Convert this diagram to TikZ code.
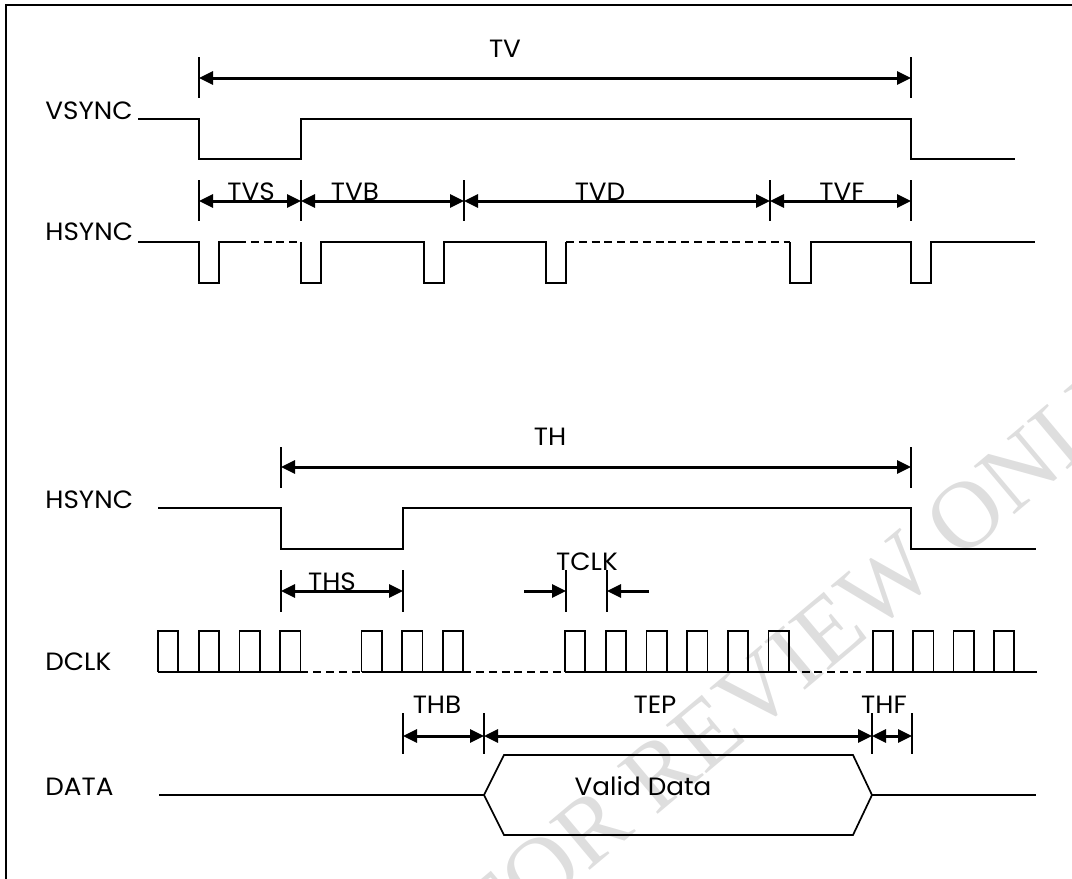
\documentclass[tikz,border=0pt]{standalone}
\usepackage{fontspec}
\setmainfont{Poppins}[FakeStretch=1.05]
\newfontfamily\stampfont{Liberation Serif}
\usetikzlibrary{arrows.meta}

\tikzset{
  sig/.style={line width=0.85pt},
  gapline/.style={line width=0.9pt, dash pattern=on 4pt off 2.4pt},
  tickline/.style={line width=0.65pt},
  dimboth/.style={line width=1.5pt, {Triangle[length=7pt,width=6.5pt]}-{Triangle[length=7pt,width=6.5pt]}},
  dimone/.style={line width=1.5pt, -{Triangle[length=7pt,width=6.5pt]}},
  lbl/.style={font=\fontsize{12.5}{15}\selectfont, inner sep=0pt, anchor=base},
  signame/.style={lbl, anchor=base west},
}

\begin{document}
\begin{tikzpicture}[x=0.5pt,y=0.5pt,yscale=-1,xscale=1]
        \useasboundingbox (0,0) rectangle (1072,879);

        % Watermark
        \begin{scope}
          \clip (0,0) rectangle (1072,879);
          \node[rotate=40, text=black!13, font=\stampfont\fontsize{48}{48}\selectfont] (stamp) at (805,650) {FOR REVIEW ONLY};
        \end{scope}

        % Frame
        \draw [line width=1.4pt] (6,879) -- (6,5) -- (1072,5);

        % Text Node
        \node [signame] (vsync) at (45,119) {VSYNC};
        \node [signame] (hsynca) at (45,240) {HSYNC};
        \node [signame] (hsyncb) at (45,508) {HSYNC};
        \node [signame] (dclk) at (45,670) {DCLK};
        \node [signame] (data) at (45,795) {DATA};

        % Text Node
        \node [lbl] (tv) at (505,57) {TV};
        \node [lbl] (tvs) at (251,200) {TVS};
        \node [lbl] (tvb) at (355,200) {TVB};
        \node [lbl] (tvd) at (600,200) {TVD};
        \node [lbl] (tvf) at (842,200) {TVF};
        \node [lbl] (th) at (550,445) {TH};
        \node [lbl] (ths) at (332,590) {THS};
        \node [lbl] (tclk) at (587,570) {TCLK};
        \node [lbl] (thb) at (437,713) {THB};
        \node [lbl] (tep) at (655,713) {TEP};
        \node [lbl] (thf) at (884,713) {THF};

        % VSYNC
        \draw [sig] (138,119) -- (199,119) -- (199,159) -- (301,159) -- (301,119) -- (911,119) -- (911,159) -- (1015,159);

        % TV
        \coordinate (tvl) at (199,78);
        \coordinate (tvr) at (911,78);
        \draw [tickline] (199,57) -- (199,98);
        \draw [tickline] (911,57) -- (911,98);
        \draw [dimboth] (tvl) -- (tvr);

        % TVS, TVB, TVD, TVF
        \foreach \n/\x in {a/199,b/301,c/464,d/770,e/911} {
          \coordinate (v\n) at (\x,201);
          \draw [tickline] (\x,180) -- (\x,221);
        }
        \draw [dimboth] (va) -- (vb);
        \draw [dimboth] (vb) -- (vc);
        \draw [dimboth] (vc) -- (vd);
        \draw [dimboth] (vd) -- (ve);

        % HSYNC (frame)
        \draw [sig] (138,242) -- (199,242) -- (199,283) -- (219,283) -- (219,242) -- (238,242);
        \draw [gapline] (238,242) -- (301,242);
        \draw [sig] (301,242) -- (301,283) -- (321,283) -- (321,242) -- (424,242) -- (424,283) -- (444,283) -- (444,242) -- (546,242) -- (546,283) -- (566,283) -- (566,242);
        \draw [gapline] (566,242) -- (790,242);
        \draw [sig] (790,242) -- (790,283) -- (811,283) -- (811,242) -- (911,242) -- (911,283) -- (931,283) -- (931,242) -- (1035,242);

        % HSYNC (line)
        \draw [sig] (158,508) -- (281,508) -- (281,549) -- (403,549) -- (403,508) -- (911,508) -- (911,549) -- (1036,549);

        % TH
        \coordinate (thl) at (281,467);
        \coordinate (thr) at (911,467);
        \draw [tickline] (281,447) -- (281,488);
        \draw [tickline] (911,447) -- (911,488);
        \draw [dimboth] (thl) -- (thr);

        % THS
        \coordinate (thsl) at (281,591);
        \coordinate (thsr) at (403,591);
        \draw [tickline] (281,570) -- (281,612);
        \draw [tickline] (403,570) -- (403,612);
        \draw [dimboth] (thsl) -- (thsr);

        % TCLK
        \coordinate (tclkl) at (566,591);
        \coordinate (tclkr) at (607,591);
        \coordinate (tclka) at (524,591);
        \coordinate (tclkb) at (649,591);
        \draw [tickline] (566,570) -- (566,612);
        \draw [tickline] (607,570) -- (607,612);
        \draw [dimone] (tclka) -- (tclkl);
        \draw [dimone] (tclkb) -- (tclkr);

        % DCLK
        \foreach \x in {158,198.7,239.4,280.1,361.5,402.2,442.9,565,605.7,646.4,687.1,727.8,768.5,873,913.3,953.6,994}
          \draw [sig] (\x,672) -- (\x,631) -- ++(20.3,0) -- ++(0,41);
        \draw [sig] (158,672) -- (300.4,672);
        \draw [gapline] (300.4,672) -- (361.5,672);
        \draw [sig] (361.5,672) -- (463.2,672);
        \draw [gapline] (463.2,672) -- (565,672);
        \draw [sig] (565,672) -- (788.8,672);
        \draw [gapline] (788.8,672) -- (873,672);
        \draw [sig] (873,672) -- (1037,672);

        % THB, TEP, THF
        \foreach \n/\x in {a/403,b/484,c/872,d/912} {
          \coordinate (h\n) at (\x,736);
          \draw [tickline] (\x,713) -- (\x,754);
        }
        \draw [dimboth] (ha) -- (hb);
        \draw [dimboth] (hb) -- (hc);
        \draw [dimboth] (hc) -- (hd);

        % DATA
        \draw [sig] (159,795) -- (484,795) -- (504,755) -- (853,755) -- (872,795) -- (853,835) -- (504,835) -- (484,795);
        \draw [sig] (872,795) -- (1036,795);
        \node [lbl] (valid) at (643,795) {Valid Data};

\end{tikzpicture}
\end{document}
